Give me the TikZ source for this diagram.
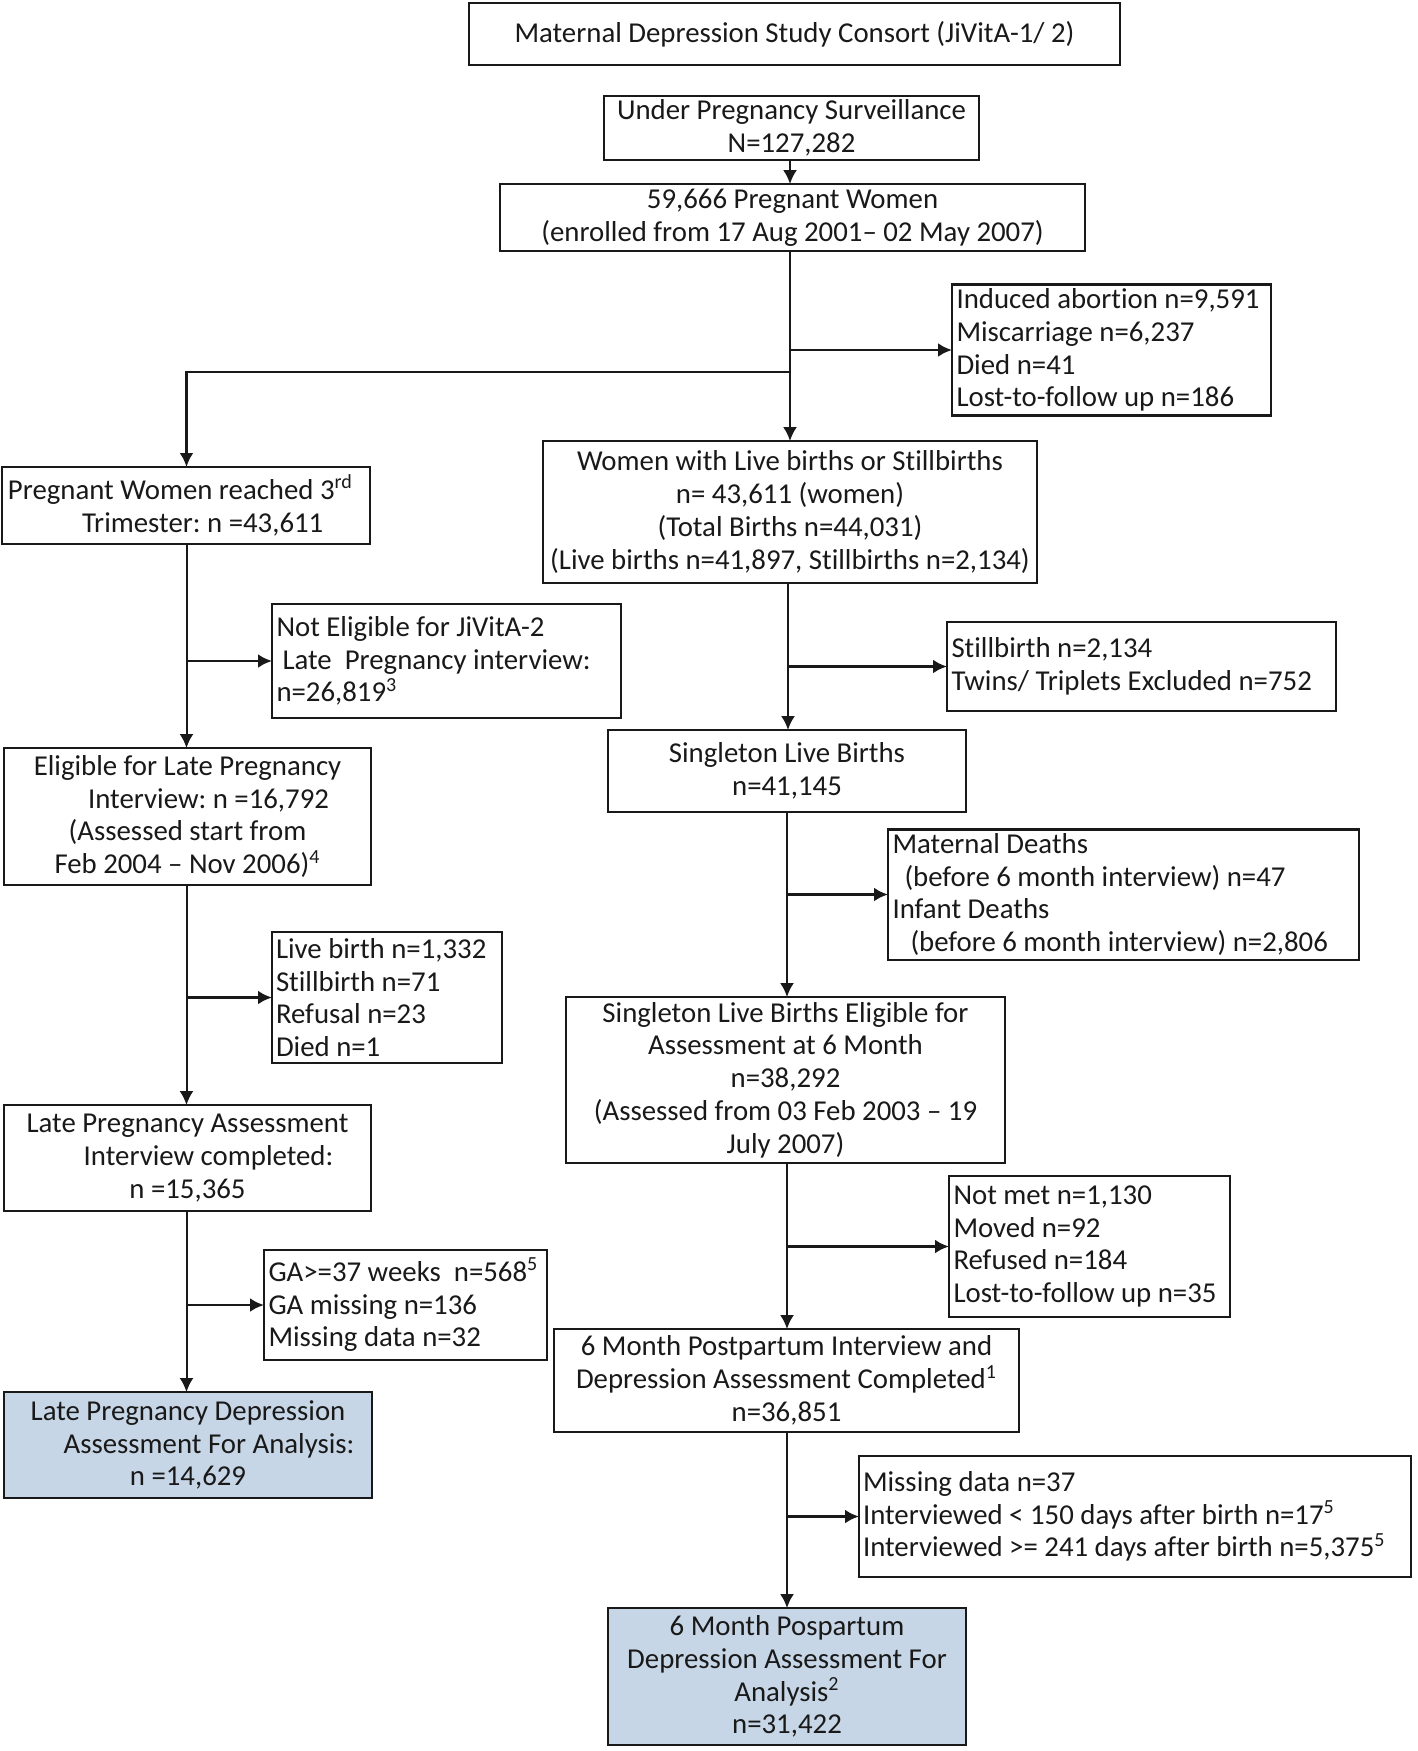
\documentclass[tikz,border=0pt]{standalone}
\usepackage{fontspec}
\setmainfont{Carlito}[Ligatures={NoCommon,NoContextual}]
\usetikzlibrary{arrows.meta}
\definecolor{boxblue}{RGB}{199,214,230}
\definecolor{ink}{RGB}{25,25,25}
\frenchspacing
\tikzset{
  box/.style={draw=ink, line width=1.2pt, fill=white, inner sep=2pt, outer sep=0pt,
    font=\fontsize{14.4}{16.4}\selectfont\frenchspacing, text=ink},
  cbox/.style={box, align=flush center},
  lbox/.style={box, align=flush left},
  bluebox/.style={cbox, fill=boxblue},
  sz/.style 2 args={minimum width=#1pt, minimum height=#2pt},
  tw/.style={text width=#1pt},
  arr/.style={draw=ink, line width=1pt, -{Latex[length=7pt,width=7pt]}},
  harr/.style={arr, line width=1.4pt}
}
\begin{document}
\begin{tikzpicture}[x=0.5pt,y=-0.5pt]
\useasboundingbox[fill=white] (0,0) rectangle (1418,1751);

% right column
\node[cbox, sz={325.5}{31}] (title) at (794.5,34) {Maternal Depression Study Consort (JiVitA-1/ 2)};
\node[cbox, sz={187.5}{31}] (surv) at (791.5,128) {Under Pregnancy Surveillance\\N=127,282};
\node[cbox, sz={292.5}{33.5}] (preg) at (792.5,217.5) {59,666 Pregnant Women\\(enrolled from 17 Aug 2001– 02 May 2007)};
\node[lbox, sz={159.5}{63}, tw=155] (excl) at (1111.5,350) {Induced abortion n=9,591\\Miscarriage n=6,237\\Died n=41\\Lost-to-follow up n=186};
\node[cbox, sz={247}{71}] (live) at (790,512) {Women with Live births or Stillbirths\\n= 43,611 (women)\\(Total Births n=44,031)\\(Live births n=41,897, Stillbirths n=2,134)};
\node[lbox, sz={194.5}{44.5}, tw=190] (still) at (1141.5,666.5) {Stillbirth n=2,134\\Twins/ Triplets Excluded n=752};
\node[cbox, sz={179}{41}] (single) at (787,771) {Singleton Live Births\\n=41,145};
\node[lbox, sz={235.5}{62.5}, tw=231] (mdeath) at (1123.5,894.5) {Maternal Deaths\\\hspace*{6pt}(before 6 month interview) n=47\\Infant Deaths\\\hspace*{9pt}(before 6 month interview) n=2,806};
\node[cbox, sz={219.5}{83}] (singel) at (785.5,1080) {Singleton Live Births Eligible for\\Assessment at 6 Month\\n=38,292\\(Assessed from 03 Feb 2003 – 19\\July 2007)};
\node[lbox, sz={140.5}{70.5}, tw=136] (notmet) at (1089.5,1246.5) {Not met n=1,130\\Moved n=92\\Refused n=184\\Lost-to-follow up n=35};
\node[cbox, sz={232.5}{51.5}] (sixm) at (786.5,1380.5) {6 Month Postpartum Interview and\\Depression Assessment Completed\textsuperscript{1}\\n=36,851};
\node[lbox, sz={276}{60.5}, tw=272] (miss) at (1135,1516.5) {Missing data n=37\\Interviewed {\char"003C} 150 days after birth n=17\textsuperscript{5}\\Interviewed {\char"003E}= 241 days after birth n=5,375\textsuperscript{5}};
\node[bluebox, sz={179}{68.5}] (final) at (787,1676.5) {6 Month Pospartum\\Depression Assessment For\\Analysis\textsuperscript{2}\\n=31,422};

% left column
\node[lbox, sz={184}{38.5}, tw=178] (tri) at (186,505.5) {Pregnant Women reached 3\textsuperscript{rd}\\\hspace*{37pt}Trimester: n =43,611};
\node[lbox, sz={174.5}{57}, tw=170] (notel) at (446.5,661) {Not Eligible for JiVitA-2\\\hspace*{3pt}Late\ \ Pregnancy interview:\\n=26,819\textsuperscript{3}};
\node[cbox, sz={183.5}{68.5}] (elig) at (187.5,816.5) {Eligible for Late Pregnancy\\\hspace*{21pt}Interview: n =16,792\\(Assessed start from\\Feb 2004 – Nov 2006)\textsuperscript{4}};
\node[lbox, sz={115}{65.5}, tw=111] (lb) at (387,997.5) {Live birth n=1,332\\Stillbirth n=71\\Refusal n=23\\Died n=1};
\node[cbox, sz={183.5}{53}] (lpa) at (187.5,1158) {Late Pregnancy Assessment\\\hspace*{21pt}Interview completed:\\n =15,365};
\node[lbox, sz={141.5}{55}, tw=137] (ga) at (405.5,1305) {GA{\char"003E}=37 weeks\ \ n=568\textsuperscript{5}\\GA missing n=136\\Missing data n=32};
\node[bluebox, sz={184}{53}] (lpd) at (188,1445) {Late Pregnancy Depression\\\hspace*{21pt}Assessment For Analysis:\\n =14,629};

% junction coordinates
\coordinate (jL) at (790,372);

% right spine
\draw[arr] (surv.south -| 790,0) -- (preg.north -| 790,0);
\draw[arr] (preg.south -| 790,0) -- (live.north -| 790,0);
\draw[harr] (excl.west -| 790,0) -- (excl.west);
\draw[harr] (jL) -| (tri.north -| 186.5,0);
\draw[arr] (live.south -| 788,0) -- (single.north -| 788,0);
\draw[harr] (still.west -| 788,0) -- (still.west);
\draw[arr] (single.south -| 787,0) -- (singel.north -| 787,0);
\draw[harr] (mdeath.west -| 787,0) -- (mdeath.west);
\draw[arr] (singel.south -| 787,0) -- (sixm.north -| 787,0);
\draw[harr] (notmet.west -| 787,0) -- (notmet.west);
\draw[arr] (sixm.south -| 787,0) -- (final.north -| 787,0);
\draw[harr] (miss.west -| 787,0) -- (miss.west);

% left spine
\draw[arr] (tri.south -| 186.5,0) -- (elig.north -| 186.5,0);
\draw[harr] (notel.west -| 186.5,0) -- (notel.west);
\draw[arr] (elig.south -| 186.5,0) -- (lpa.north -| 186.5,0);
\draw[harr] (lb.west -| 186.5,0) -- (lb.west);
\draw[arr] (lpa.south -| 186.5,0) -- (lpd.north -| 186.5,0);
\draw[harr] (ga.west -| 186.5,0) -- (ga.west);
\end{tikzpicture}
\end{document}
